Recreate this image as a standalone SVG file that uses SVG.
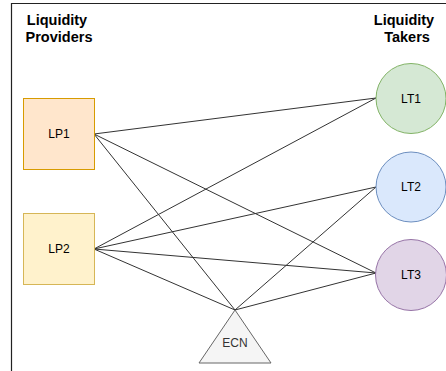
<svg xmlns="http://www.w3.org/2000/svg" width="446" height="371" viewBox="0 0 446 371">
<style>
.hdr{font-family:"Liberation Sans",Arial,sans-serif;font-size:14.5px;font-weight:bold;fill:#000}
.lbl{font-family:"Liberation Sans",Arial,sans-serif;font-size:12px;fill:#000;text-anchor:middle;dominant-baseline:central}
.conn line{stroke:#333;stroke-width:1}
</style>
<rect width="446" height="371" fill="#fff"/>
<g id="frame"><path d="M11.5,371 V3.5 H446" fill="none" stroke="#222" stroke-width="1.2"/></g>
<g id="hdr-providers"><text class="hdr" x="57" y="25" text-anchor="middle">Liquidity</text><text class="hdr" x="59" y="42" text-anchor="middle">Providers</text></g>
<g id="hdr-takers"><text class="hdr" x="404" y="25" text-anchor="middle">Liquidity</text><text class="hdr" x="407" y="42" text-anchor="middle">Takers</text></g>
<g class="conn" id="connectors">
<line x1="94" y1="134" x2="376" y2="98"/>
<line x1="94" y1="134" x2="376" y2="273"/>
<line x1="94" y1="134" x2="235" y2="310"/>
<line x1="94" y1="249" x2="376" y2="98"/>
<line x1="94" y1="249" x2="376" y2="187"/>
<line x1="94" y1="249" x2="376" y2="273"/>
<line x1="94" y1="249" x2="235" y2="310"/>
<line x1="235" y1="310" x2="376" y2="187"/>
<line x1="235" y1="310" x2="376" y2="273"/>
</g>
<g id="LP1"><rect x="23.5" y="98.5" width="71" height="71" fill="#ffe6cc" stroke="#d79b00"/><text class="lbl" x="59" y="134">LP1</text></g>
<g id="LP2"><rect x="23.5" y="213.5" width="71" height="71" fill="#fff2cc" stroke="#d6b656"/><text class="lbl" x="59" y="249">LP2</text></g>
<g id="LT1"><circle cx="411" cy="98.5" r="35" fill="#d5e8d4" stroke="#82b366"/><text class="lbl" x="411" y="99">LT1</text></g>
<g id="LT2"><circle cx="411" cy="187" r="35" fill="#dae8fc" stroke="#6c8ebf"/><text class="lbl" x="411" y="187">LT2</text></g>
<g id="LT3"><circle cx="411" cy="275" r="35.5" fill="#e1d5e7" stroke="#9673a6"/><text class="lbl" x="411" y="275">LT3</text></g>
<g id="ECN"><polygon points="235,310 199,363 271,363" fill="#f5f5f5" stroke="#666"/><text class="lbl" x="235" y="343" style="fill:#333">ECN</text></g>
</svg>
